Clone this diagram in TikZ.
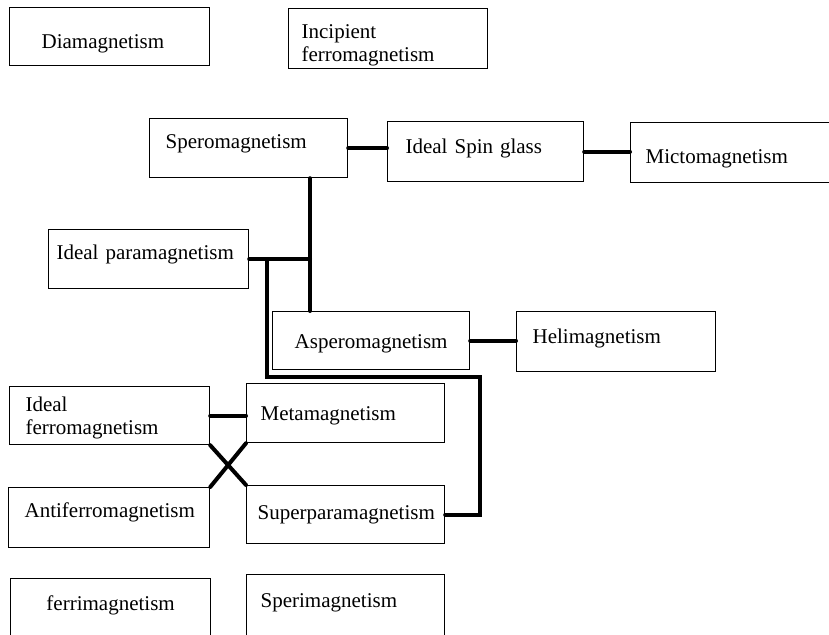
\documentclass[tikz,border=0pt]{standalone}
\usepackage{fontspec}
\setmainfont{Liberation Serif}

\begin{document}
\begin{tikzpicture}[
  x=0.5pt, y=-0.5pt,
  font=\fontsize{10.5}{11.5}\selectfont,
  box/.style={draw, line width=0.6pt, anchor=north west, inner ysep=0pt, align=left},
  cbox/.style={box, align=center},
  link/.style={line width=2pt, line cap=round}
]
\useasboundingbox (0,0) rectangle (829,634);
\clip (0,0) rectangle (829,634);

% ----- TOP ROW -----
\node[box, inner xsep=16pt, text width=68pt, text height=20.5pt, text depth=8.5pt] (dia) at (9,7) {Diamagnetism};
\node[box, inner xsep=6.5pt, text width=86.5pt, text height=15pt, text depth=15pt] (incip) at (288,8) {Incipient\\ferromagnetism};

% ----- SPIN GLASS ROW -----
\node[box, inner xsep=8pt, text width=83pt, text height=15pt, text depth=14.5pt] (spero) at (149,118) {Speromagnetism};
\node[box, inner xsep=9pt, text width=80pt, text height=16pt, text depth=14pt] (spin) at (387,121) {Ideal Spin glass};
\node[box, inner xsep=7.5pt, text width=90pt, text height=20.5pt, text depth=9.5pt] (micto) at (630,122) {Mictomagnetism};

% ----- MIDDLE -----
\node[box, inner xsep=4pt, text width=92pt, text height=15pt, text depth=14.5pt] (paraI) at (48,229) {Ideal paramagnetism};
\node[cbox, inner xsep=4pt, text width=90.5pt, text height=18.5pt, text depth=10.5pt] (aspero) at (272,311) {Asperomagnetism};
\node[box, inner xsep=8pt, text width=83.5pt, text height=16pt, text depth=14pt] (heli) at (516,311) {Helimagnetism};

% ----- LOWER BLOCKS -----
\node[box, inner xsep=8pt, text width=84pt, text height=12.5pt, text depth=16.5pt] (ferroI) at (9,386) {Ideal\\ferromagnetism};
\node[box, inner xsep=7pt, text width=85pt, text height=18.5pt, text depth=11pt] (meta) at (246,383) {Metamagnetism};
\node[box, inner xsep=8pt, text width=84.5pt, text height=15pt, text depth=15pt] (anti) at (8,487) {Antiferromagnetism};
\node[box, inner xsep=5.5pt, text width=88pt, text height=17pt, text depth=12pt] (superp) at (246,485) {Superparamagnetism};
\node[cbox, inner xsep=4pt, text width=92pt, text height=16pt, text depth=15pt] (ferri) at (10,578) {ferrimagnetism};
\node[box, inner xsep=7pt, text width=85pt, text height=16.5pt, text depth=14.5pt] (speri) at (246,574) {Sperimagnetism};

% ----- JUNCTIONS -----
\coordinate (trunk) at (310,0);
\coordinate (bend) at (267,377);
\coordinate (turn) at (480,377);

% ----- CONNECTIONS -----
\draw[link] (spero.east) -- (spero.east -| spin.west);
\draw[link] (spin.east) -- (spin.east -| micto.west);
\draw[link] (aspero.east) -- (aspero.east -| heli.west);
\draw[link] (spero.south -| trunk) -- (aspero.north -| trunk);
\draw[link] (paraI.east) -- (paraI.east -| trunk);
\draw[link] (paraI.east -| bend) -- (bend) -- (turn) |- (superp.east);

% ----- CROSSED LINKS -----
\draw[link] (ferroI.east) -- (ferroI.east -| meta.west);
\draw[link] (ferroI.south east) -- (superp.north west);
\draw[link] (anti.north east) -- (meta.south west);

\end{tikzpicture}
\end{document}
